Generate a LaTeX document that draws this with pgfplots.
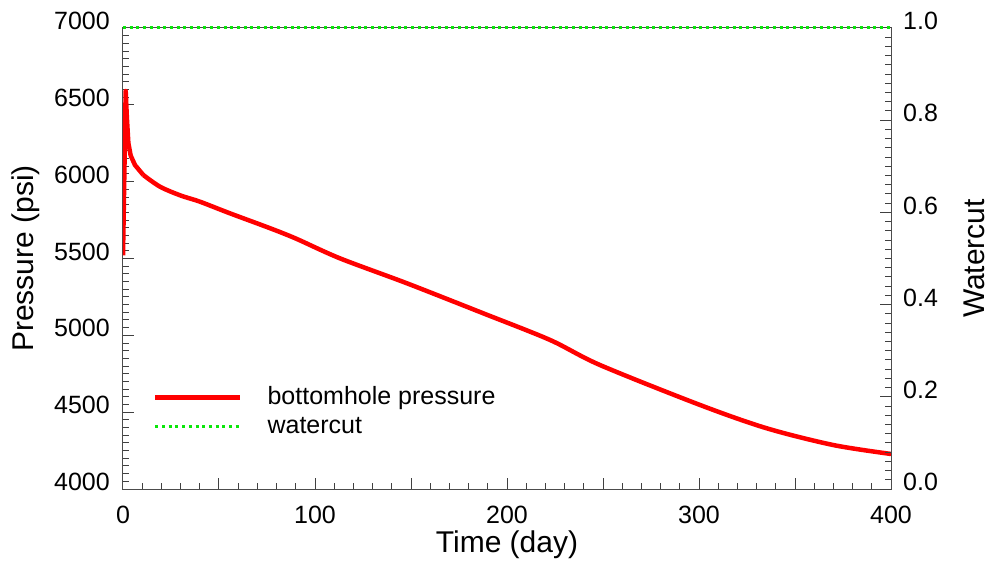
\documentclass[border=0pt]{standalone}
\usepackage{pgfplots}
\pgfplotsset{compat=1.18}
\usepackage{fontspec}
\setmainfont{Liberation Sans}
\definecolor{wgreen}{RGB}{10,230,10}
\begin{document}
\begin{tikzpicture}
\useasboundingbox (-123pt,-79pt) rectangle (867pt,489pt);
\pgfplotsset{
  every axis/.append style={
    scale only axis, width=768pt, height=461pt,
    xmin=0, xmax=400,
    axis line style={black!70, line width=1pt},
    every tick/.style={black!75, line width=1pt},
    tick align=inside,
    major tick length=11pt, minor tick length=6pt,
    tick label style={font=\fontsize{25}{29}\selectfont},
    label style={font=\fontsize{30}{34}\selectfont},
    /pgf/number format/assume math mode=true,
  }
}
\begin{axis}[
  at={(0pt,0pt)}, anchor=south west,
  ymin=4000, ymax=7000,
  xtick={0,50,...,400},
  xticklabels={0,,100,,200,,300,,400},
  minor x tick num=4,
  ytick={4000,4500,...,7000},
  minor y tick num=9,
  xtick pos=bottom, ytick pos=left,
  scaled y ticks=false,
  yticklabel style={/pgf/number format/.cd, fixed, 1000 sep={}, /tikz/.cd, anchor=east, inner sep=0pt, xshift=-13pt, yshift=7pt},
  xticklabel style={anchor=north, inner sep=0pt, yshift=-17pt},
  xlabel={Time (day)},
  ylabel={Pressure (psi)},
  xlabel style={at={(axis description cs:0.5,-0.121)}, anchor=center},
  ylabel style={at={(axis description cs:-0.126,0.5)}, anchor=center},
]
\addplot[red, line width=4.5pt, line join=round] coordinates {
(0,5520) (0.7,6050) (1.4,6590) (2.0,6420) (2.8,6250) (4,6170) (6.25,6108)
(10.6,6043)
};
\addplot[red, line width=4.5pt, line join=round, smooth, tension=0.5] coordinates {
(10.6,6043) (19.3,5967) (30,5910) (40,5870) (55.7,5794) (76.6,5697)
(90,5630) (113,5501) (147.8,5339) (187.7,5143) (222.4,4970)
(248.4,4807) (300.5,4547) (335.3,4395) (370,4286) (400,4228)
};
\end{axis}
\begin{axis}[
  at={(0pt,0pt)}, anchor=south west,
  ymin=0, ymax=1,
  axis x line=none,
  axis y line*=right,
  ytick={0,0.2,...,1.0},
  minor y tick num=9,
  yticklabel style={/pgf/number format/.cd, fixed, fixed zerofill, precision=1, /tikz/.cd, anchor=west, inner sep=0pt, xshift=12pt, yshift=7pt},
  ylabel={Watercut},
  ylabel style={at={(axis description cs:1.109,0.5)}, anchor=center},
  clip=false,
  legend style={draw=none, fill=none, at={(0.035,0.228)}, anchor=north west,
    font=\fontsize{25}{29}\selectfont, row sep=6pt, column sep=25pt,
    nodes={inner sep=0pt, text height=18pt, text depth=5pt},
    legend cell align=left},
  legend image code/.code={\draw[#1] (0pt,0pt) -- (85pt,0pt);},
]
\addlegendimage{red, line width=4.5pt}
\addlegendentry{bottomhole pressure}
\addplot[wgreen, line width=3pt, dash pattern=on 3pt off 3.7pt] coordinates {(0,1) (400,1)};
\addlegendentry{watercut}
\end{axis}
\end{tikzpicture}
\end{document}
